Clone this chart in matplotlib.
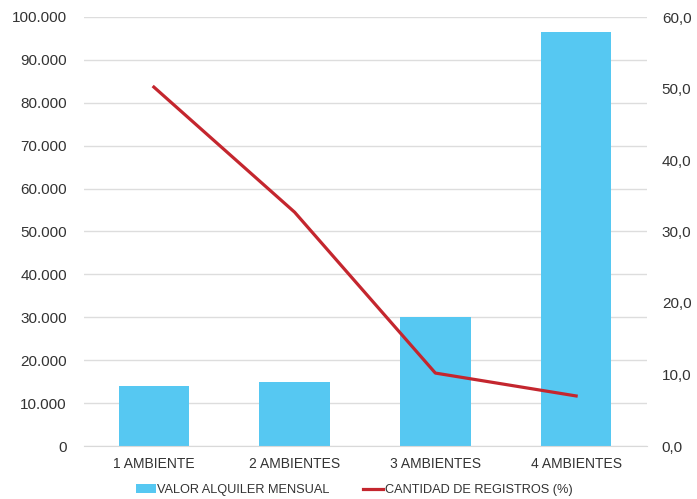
import matplotlib
matplotlib.use("Agg")
import matplotlib.pyplot as plt
from matplotlib.ticker import FuncFormatter

categories = ["1 AMBIENTE", "2 AMBIENTES", "3 AMBIENTES", "4 AMBIENTES"]
valor_alquiler = [14000, 15000, 30000, 96500]
cantidad_registros = [50.2, 32.7, 10.2, 7.0]
left_ticks = [0, 10000, 20000, 30000, 40000, 50000, 60000, 70000, 80000, 90000, 100000]
right_ticks = [0, 10, 20, 30, 40, 50, 60]

plt.rcParams['font.family'] = ['Liberation Sans', 'DejaVu Sans']
text_color = "#333333"

fig = plt.figure(figsize=(6.97, 4.99), dpi=100)
ax = fig.add_axes([83.5/697, 1-446/499, (646.5-83.5)/697, (446-17)/499])
x = list(range(len(categories)))
bars = ax.bar(x, valor_alquiler, width=0.5, color="#56C8F2", label="VALOR ALQUILER MENSUAL", zorder=2)
ax.set_xlim(-0.5, len(categories)-0.5)
ax.set_ylim(0, 100000)
ax.set_yticks(left_ticks)
ax.yaxis.set_major_formatter(FuncFormatter(lambda v, p: f"{int(v):,}".replace(",", ".")))
ax.set_xticks(x)
ax.set_xticklabels(categories)
ax.grid(axis="y", color="#DDDDDD", linewidth=1, zorder=0)
for s in ["top", "right", "left"]:
    ax.spines[s].set_visible(False)
ax.spines["bottom"].set_color("#D9D9D9")
ax.tick_params(axis="both", length=0, colors=text_color)
ax.tick_params(axis="y", pad=12, labelsize=11)
ax.tick_params(axis="x", pad=8, labelsize=10)

ax2 = ax.twinx()
line, = ax2.plot(x, cantidad_registros, color="#C4262E", linewidth=2.3, label="CANTIDAD DE REGISTROS (%)", zorder=3)
ax2.set_ylim(0, 60)
ax2.set_yticks(right_ticks)
ax2.yaxis.set_major_formatter(FuncFormatter(lambda v, p: f"{v:.1f}".replace(".", ",")))
for s in ["top", "right", "left", "bottom"]:
    ax2.spines[s].set_visible(False)
ax2.tick_params(axis="y", length=0, labelsize=11, colors=text_color, pad=11)

fig.legend([bars, line], ["VALOR ALQUILER MENSUAL", "CANTIDAD DE REGISTROS (%)"],
           loc="center", bbox_to_anchor=(0.508, 1-490/499), ncol=2, frameon=False,
           fontsize=9.2, handlelength=1.6, handletextpad=0.1, columnspacing=2.6,
           labelcolor=text_color)

fig.savefig("out.png", dpi=100)
